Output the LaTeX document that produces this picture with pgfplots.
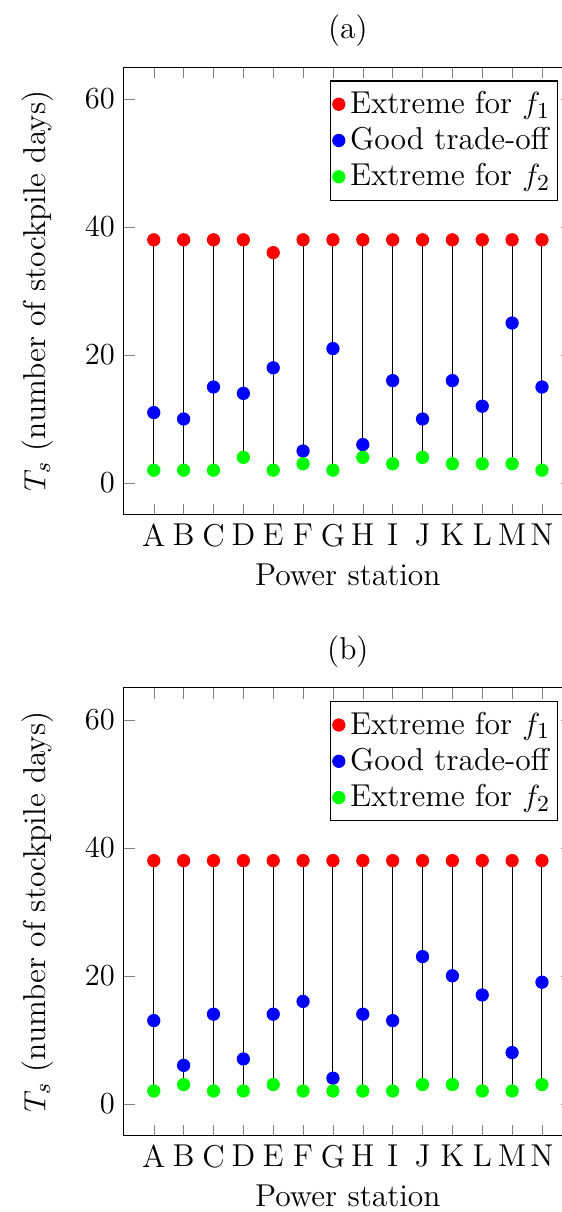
\documentclass[border=0pt]{standalone}
\usepackage{pgfplots}
\pgfplotsset{compat=1.18}
\newcommand{\myfont}{\fontsize{12.4}{15}\selectfont}
\begin{document}
\begin{tikzpicture}
\pgfplotsset{
  myax/.style={
    scale only axis, width=175.7pt, height=175.7pt,
    xmin=0, xmax=15, ymin=-5, ymax=65,
    xtick={1,...,14},
    xticklabels={A,B,C,D,E,F,G,H,I,J,K,L,M,N},
    ytick={0,20,40,60},
    xlabel={Power station},
    ylabel={$T_s$ (number of stockpile days)},
    ylabel shift=5.5pt,
    font=\myfont,
    title style={yshift=-1.5pt},
    legend pos=north east,
    legend cell align=left,
    legend style={font=\myfont, inner xsep=1pt},
    legend image code/.code={\draw[#1] plot coordinates {(0cm,0cm)};},
    unbounded coords=jump,
    anchor=north west,
  },
  mk/.style={only marks, mark=*, mark size=2.4pt, mark options={draw=#1, fill=#1}},
}
% ---------- (a) ----------
\begin{axis}[myax, at={(0,0)}, title={(a)}]
\addplot[black, forget plot] coordinates {
(1,2)(1,38)(1,nan) (2,2)(2,38)(2,nan) (3,2)(3,38)(3,nan) (4,4)(4,38)(4,nan)
(5,2)(5,36)(5,nan) (6,3)(6,38)(6,nan) (7,2)(7,38)(7,nan) (8,4)(8,38)(8,nan)
(9,3)(9,38)(9,nan) (10,4)(10,38)(10,nan) (11,3)(11,38)(11,nan) (12,3)(12,38)(12,nan)
(13,3)(13,38)(13,nan) (14,2)(14,38)};
\addplot[mk=red] coordinates {(1,38)(2,38)(3,38)(4,38)(5,36)(6,38)(7,38)(8,38)(9,38)(10,38)(11,38)(12,38)(13,38)(14,38)};
\addlegendentry{Extreme for $f_1$}
\addplot[mk=blue] coordinates {(1,11)(2,10)(3,15)(4,14)(5,18)(6,5)(7,21)(8,6)(9,16)(10,10)(11,16)(12,12)(13,25)(14,15)};
\addlegendentry{Good trade-off}
\addplot[mk=green] coordinates {(1,2)(2,2)(3,2)(4,4)(5,2)(6,3)(7,2)(8,4)(9,3)(10,4)(11,3)(12,3)(13,3)(14,2)};
\addlegendentry{Extreme for $f_2$}
\end{axis}
% ---------- (b) ----------
\begin{axis}[myax, at={(0,-243.5pt)}, title={(b)}]
\addplot[black, forget plot] coordinates {
(1,2)(1,38)(1,nan) (2,3)(2,38)(2,nan) (3,2)(3,38)(3,nan) (4,2)(4,38)(4,nan)
(5,3)(5,38)(5,nan) (6,2)(6,38)(6,nan) (7,2)(7,38)(7,nan) (8,2)(8,38)(8,nan)
(9,2)(9,38)(9,nan) (10,3)(10,38)(10,nan) (11,3)(11,38)(11,nan) (12,2)(12,38)(12,nan)
(13,2)(13,38)(13,nan) (14,3)(14,38)};
\addplot[mk=red] coordinates {(1,38)(2,38)(3,38)(4,38)(5,38)(6,38)(7,38)(8,38)(9,38)(10,38)(11,38)(12,38)(13,38)(14,38)};
\addlegendentry{Extreme for $f_1$}
\addplot[mk=blue] coordinates {(1,13)(2,6)(3,14)(4,7)(5,14)(6,16)(7,4)(8,14)(9,13)(10,23)(11,20)(12,17)(13,8)(14,19)};
\addlegendentry{Good trade-off}
\addplot[mk=green] coordinates {(1,2)(2,3)(3,2)(4,2)(5,3)(6,2)(7,2)(8,2)(9,2)(10,3)(11,3)(12,2)(13,2)(14,3)};
\addlegendentry{Extreme for $f_2$}
\end{axis}
\pgfresetboundingbox
\path[use as bounding box] (-48.6pt,-449.1pt) rectangle (171.8pt,26.3pt);
\end{tikzpicture}
\end{document}
